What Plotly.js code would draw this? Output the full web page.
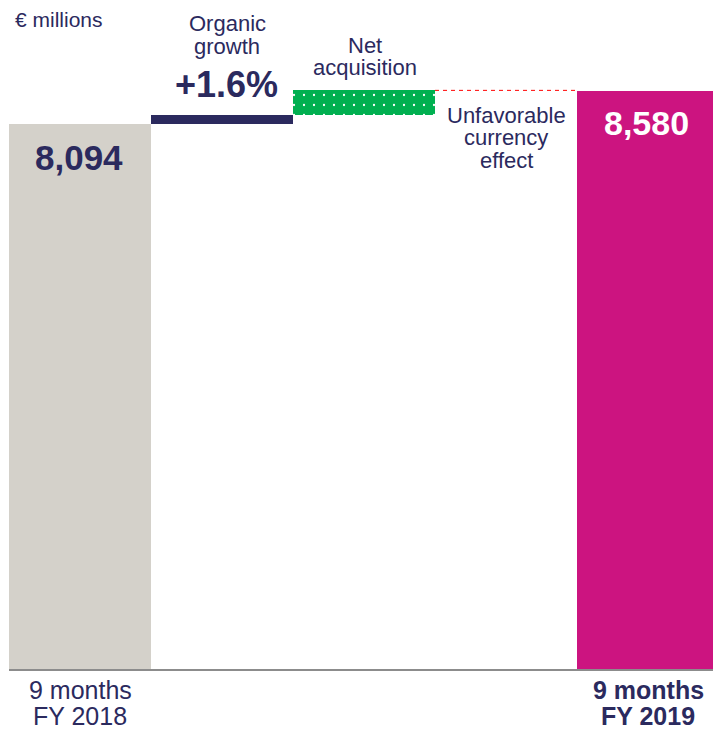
<!DOCTYPE html>
<html><head><meta charset="utf-8">
<script src="https://cdn.plot.ly/plotly-3.0.1.min.js"></script>
<style>body{margin:0;background:#fff}#c{width:713px;height:729px}</style>
</head><body><div id="c"></div>
<script>
const categories = ['9 months FY 2018', 'Organic growth', 'Net acquisition', 'Unfavorable currency effect', '9 months FY 2019'];
const startValue = 8094;
const organicGrowth = 130;
const netAcquisition = 370;
const currencyEffect = -14;
const endValue = 8580;
const organicLabel = '+1.6%';
const unitLabel = '€ millions';

const NAVY = '#2B2A5E', GRAY = '#D4D1CA', GREEN = '#00B050', MAGENTA = '#CC1480';
const afterOrganic = startValue + organicGrowth;
const afterAcq = afterOrganic + netAcquisition;

const traces = [
  {type:'bar', x:[0], y:[startValue], width:1, marker:{color:GRAY}, hoverinfo:'none'},
  {type:'bar', x:[1], y:[organicGrowth], base:[startValue], width:1, marker:{color:NAVY}, hoverinfo:'none'},
  {type:'bar', x:[2], y:[netAcquisition], base:[afterOrganic], width:1,
   marker:{color:GREEN, pattern:{shape:'.', fgcolor:'#ffffff', bgcolor:GREEN, size:10, solidity:0.04}}, hoverinfo:'none'},
  {type:'bar', x:[3], y:[currencyEffect], base:[afterAcq], width:1, marker:{color:'rgba(0,0,0,0)'}, hoverinfo:'none'},
  {type:'scatter', mode:'lines', x:[2.5, 3.5], y:[afterAcq, afterAcq], line:{color:'#FF0000', width:1, dash:'4px,4px'}, hoverinfo:'none'},
  {type:'bar', x:[4], y:[endValue], width:1, marker:{color:MAGENTA}, hoverinfo:'none'}
];

const F = 'Liberation Sans, Arial, sans-serif';
const py = p => 1 - p/669;
const annotations = [];
function label(x, lines, centers, size, bold, color, xshift) {
  lines.forEach((t, i) => annotations.push({
    xref:'x', yref:'paper', x:x, xshift:xshift||0, y:py(centers[i]), yanchor:'middle', xanchor:'center',
    text: bold ? '<b>'+t+'</b>' : t, showarrow:false, font:{family:F, size:size, color:color}
  }));
}
annotations.push({xref:'paper', yref:'paper', x:(13-9)/704, y:py(19), xanchor:'left', yanchor:'middle', text:unitLabel, showarrow:false, font:{family:F, size:21, color:NAVY}});
const c1 = categories[1].split(' '), c2 = categories[2].split(' '), c3 = categories[3].split(' ');
label(1, c1, [23, 46], 22, false, NAVY, 5);
label(1, [organicLabel], [84.5], 36, true, NAVY, 4);
label(2, c2, [45.5, 67], 22, false, NAVY, 1);
label(3, c3, [115, 137.5, 160], 22, false, NAVY, 0);
label(0, [startValue.toLocaleString('en-US')], [157.5], 35, true, NAVY, -1);
label(4, [endValue.toLocaleString('en-US')], [123], 34, true, '#ffffff', -2);
label(0, ['9 months', 'FY 2018'], [690.5, 715.5], 25, false, NAVY, 0);
label(4, ['9 months', 'FY 2019'], [690.5, 715.5], 25, true, NAVY, 0);

const layout = {
  width:713, height:729,
  margin:{l:9, r:0, t:0, b:60},
  paper_bgcolor:'#fff', plot_bgcolor:'#fff',
  barmode:'overlay', bargap:0,
  showlegend:false,
  xaxis:{range:[-0.5, -0.5 + 704/142], showgrid:false, zeroline:false, showticklabels:false, ticks:'',
         showline:true, linecolor:'#8C8C8C', linewidth:2, fixedrange:true},
  yaxis:{range:[0, 9936], visible:false, fixedrange:true},
  annotations: annotations
};
Plotly.newPlot('c', traces, layout, {displayModeBar:false, staticPlot:true});
</script></body></html>
